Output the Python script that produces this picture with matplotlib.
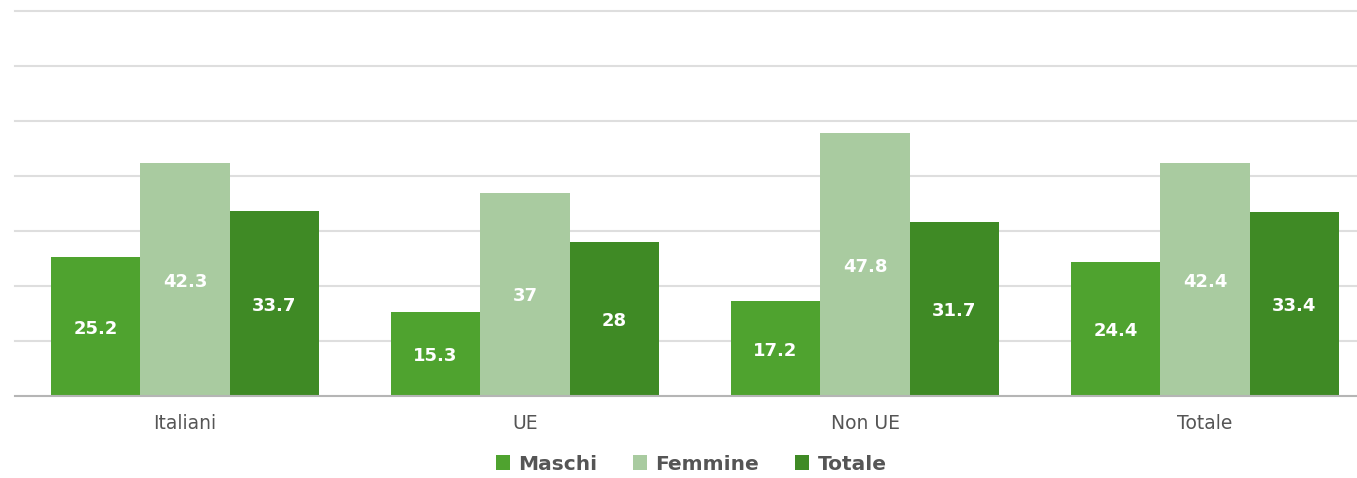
import numpy as np
from matplotlib import pyplot as plt

categories = ['Italiani', 'UE', 'Non UE', 'Totale']
maschi = [25.2, 15.3, 17.2, 24.4]
femmine = [42.3, 37, 47.8, 42.4]
totale = [33.7, 28, 31.7, 33.4]

series = [('Maschi', maschi, '#4fa32f'),
          ('Femmine', femmine, '#a9cba0'),
          ('Totale', totale, '#3f8a25')]

W, H = 1357, 478
fig = plt.figure(figsize=(W / 100, H / 100), dpi=100)
ax = fig.add_axes([15 / W, (H - 396) / H, (1357 - 15) / W, (396 - 11) / H])

x = np.arange(len(categories))
bw = 0.263
for i, (name, vals, col) in enumerate(series):
    pos = x + (i - 1) * bw
    bars = ax.bar(pos, vals, width=bw, color=col, label=name, zorder=3)
    for b, v in zip(bars, vals):
        ax.text(b.get_x() + b.get_width() / 2, v / 2 - 0.4, f'{v:g}',
                ha='center', va='center', color='white', fontsize=13,
                fontweight='bold', zorder=4)

ax.set_xlim(-0.5, 3.447)
ax.set_ylim(0, 70)
ax.set_yticks(np.arange(10, 71, 10))
ax.yaxis.grid(True, color='#dedede', lw=1.5, zorder=0)
for ln in ax.get_ygridlines():
    ln.set_clip_on(False)
ax.tick_params(axis='y', left=False, labelleft=False)
ax.tick_params(axis='x', length=0, pad=13, labelsize=13.5, labelcolor='#555555')
ax.set_xticks(x)
ax.set_xticklabels(categories)
for s in ['top', 'right', 'left']:
    ax.spines[s].set_visible(False)
ax.spines['bottom'].set_color('#b5b5b5')
ax.spines['bottom'].set_linewidth(1.5)
ax.spines['bottom'].set_zorder(5)

leg = fig.legend(loc='center', bbox_to_anchor=(691 / W, 1 - 464 / H), ncol=3,
                 frameon=False, prop={'size': 14.5, 'weight': 'semibold'},
                 handlelength=0.7, handleheight=0.7,
                 handletextpad=0.4, columnspacing=1.8)
for t in leg.get_texts():
    t.set_color('#555555')

fig.savefig('out.png', dpi=100)
